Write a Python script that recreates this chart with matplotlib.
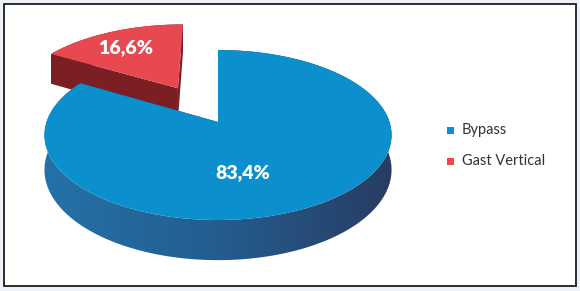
import numpy as np
import matplotlib.pyplot as plt
from matplotlib.patches import Polygon, Rectangle
from matplotlib.colors import to_rgb

# dados
labels = ['Bypass', 'Gast Vertical']
values = [83.4, 16.6]
pct_text = ['83,4%', '16,6%']
explode = [0.0, 0.5]
top_colors = ['#0b8fcd', '#e8484f']
side_left = ['#2372a9', '#7b1f24']
side_mid = ['#245d8f', '#7b1f24']
side_right = ['#283c62', '#7b1f24']
label_pos = [(243, 173), (126, 48)]

# geometria do "3D"
cx, cy = 218, 122
rx, ry = 171.5, 83
k = 0.153      # perspectiva
depth = 34


def proj(u, v, z=0.0):
    s = 1.0 / (1.0 + k * v)
    return cx + rx * u * s, cy - ry * v * s + depth * z * s


fig = plt.figure(figsize=(5.8, 2.91), dpi=100)
fig.patch.set_facecolor('#edf2f8')
ax = fig.add_axes([0, 0, 1, 1])

ax.add_patch(Rectangle((3.5, 3.5), 572, 282, facecolor='white',
                       edgecolor='#1a1a1a', lw=1.3, zorder=0))

total = sum(values)
bounds = np.cumsum([0] + values) / total * 360.0
slices = []
for i in range(len(values)):
    a0 = np.radians(90 - bounds[i])
    a1 = np.radians(90 - bounds[i + 1])
    mid = (a0 + a1) / 2
    ox, oy = explode[i] * np.cos(mid), explode[i] * np.sin(mid)
    slices.append((a0, a1, ox, oy))

# desenha primeiro a fatia de trás (vermelha), depois a azul
for i in [1, 0]:
    a0, a1, ox, oy = slices[i]
    z0 = 2 + (1 - i) * 4
    t = np.linspace(a0, a1, 400)
    u = ox + np.cos(t)
    v = oy + np.sin(t)
    xt, yt = proj(u, v, 0)
    xb, yb = proj(u, v, 1)

    # parede externa com degradê (imagem recortada pelo contorno)
    wall = Polygon(list(zip(xt, yt)) + list(zip(xb[::-1], yb[::-1])),
                   closed=True, facecolor='none', edgecolor='none', zorder=z0)
    ax.add_patch(wall)
    f = np.linspace(0, 1, 256)
    cl, cm, cr = (np.array(to_rgb(c)) for c in (side_left[i], side_mid[i], side_right[i]))
    grad = np.where(f[:, None] < 0.5,
                    cl + (cm - cl) * (f[:, None] / 0.5),
                    cm + (cr - cm) * ((f[:, None] - 0.5) / 0.5))
    x0, x1 = xt.min() - 2, xt.max() + 2
    im = ax.imshow(grad[None, :, :], extent=(x0, x1, yb.max() + 2, yt.min() - 2),
                   aspect='auto', interpolation='bilinear', zorder=z0)
    im.set_clip_path(wall)

    # faces radiais
    for a in (a0, a1):
        p = [proj(ox, oy, 0), proj(ox + np.cos(a), oy + np.sin(a), 0),
             proj(ox + np.cos(a), oy + np.sin(a), 1), proj(ox, oy, 1)]
        ax.add_patch(Polygon(p, closed=True, facecolor=side_left[i] if i else side_right[i],
                             edgecolor='none', zorder=z0 + 1))

    # tampo
    top = [proj(ox, oy, 0)] + list(zip(xt, yt))
    ax.add_patch(Polygon(top, closed=True, facecolor=top_colors[i],
                         edgecolor='none', zorder=z0 + 2))

    ax.text(label_pos[i][0], label_pos[i][1], pct_text[i], color='white',
            fontsize=14, fontweight='heavy', family=['Lato', 'DejaVu Sans'],
            ha='center', va='center', zorder=20)

# legenda
leg_y = [130, 161]
for i in range(len(labels)):
    ax.add_patch(Rectangle((447, leg_y[i] - 3.5), 7, 7, facecolor=top_colors[i],
                           edgecolor='none', zorder=20))
    ax.text(462, leg_y[i], labels[i], fontsize=10.5, color='#333333',
            family=['Lato', 'DejaVu Sans'], ha='left', va='center', zorder=20)

ax.set_xlim(0, 580)
ax.set_ylim(291, 0)
ax.axis('off')

fig.savefig('out.png', dpi=100, facecolor=fig.get_facecolor())
